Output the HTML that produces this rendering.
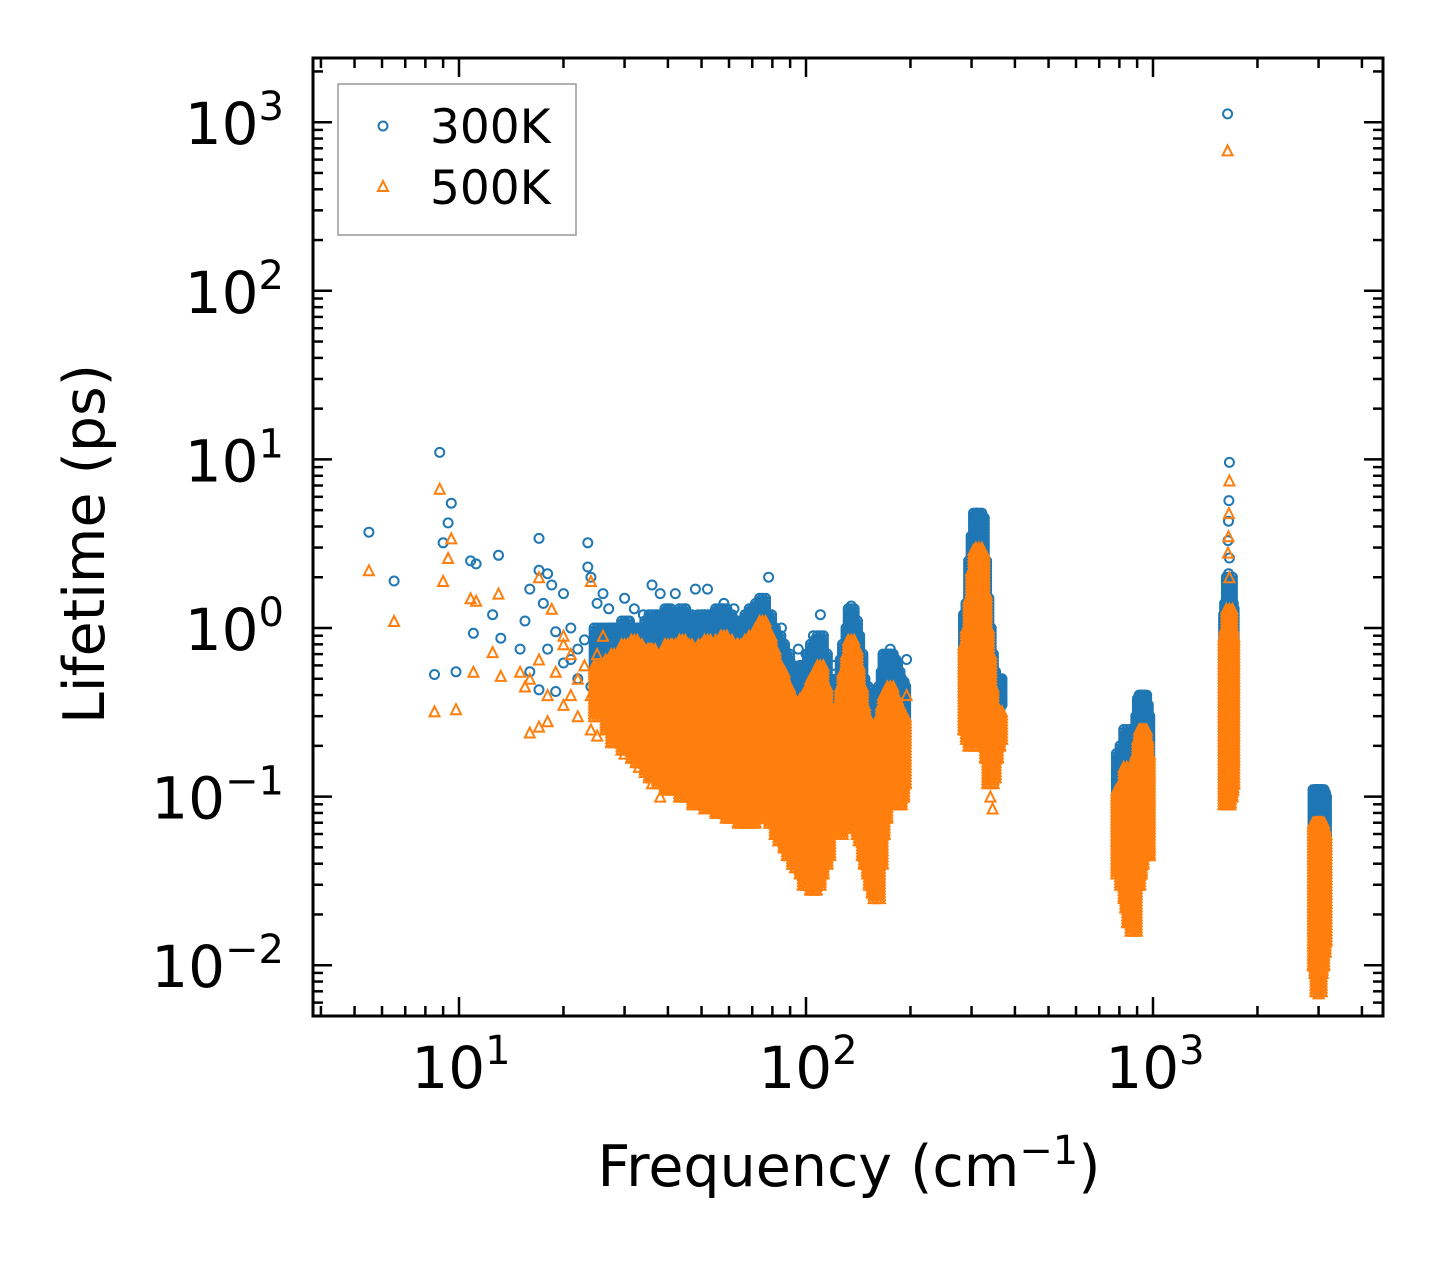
<!DOCTYPE html>
<html><head><meta charset="utf-8"><style>
html,body{margin:0;padding:0;background:#fff;width:1442px;height:1265px;overflow:hidden}
svg{display:block;font-family:"DejaVu Sans","Liberation Sans",sans-serif}
</style></head><body>
<svg id="chart" width="1442" height="1265" viewBox="0 0 1442 1265" xmlns="http://www.w3.org/2000/svg">
<g id="marks300"></g>
<g id="marks500"></g>
<g id="axes"></g>
<rect x="338" y="84" width="238" height="151" fill="#fff" stroke="#999" stroke-width="1.5"/>
<circle cx="383" cy="126" r="4.5" fill="none" stroke="#1f77b4" stroke-width="2"/>
<text x="430" y="143" font-size="47">300K</text>
<path d="M383,181 L388,191 L378,191 Z" fill="none" stroke="#ff7f0e" stroke-width="2"/>
<text x="430" y="204" font-size="47">500K</text>
<text x="849" y="1186" font-size="57" text-anchor="middle">Frequency (cm<tspan dy="-22" font-size="40">−1</tspan><tspan dy="22">)</tspan></text>
<text transform="translate(104,544) rotate(-90)" font-size="57" text-anchor="middle">Lifetime (ps)</text>
</svg>
<script>
// isolated points [freq, lifetime]
const iso300 = [[5.5,3.7],[6.5,1.9],[8.5,0.53],[8.8,11],[9.0,3.2],[9.3,4.2],[9.5,5.5],[9.8,0.55],[10.8,2.5],[11,0.93],[11.2,2.4],[12.5,1.2],[13,2.7],[13.2,0.87],[15,0.75],[15.5,1.1],[16,1.7],[16,0.55],[17,3.4],[17,2.2],[17.5,1.4],[18,2.1],[18.5,1.8],[19,0.95],[20,1.6],[21,0.65],[23.5,3.2],[23.5,2.3],[24,2.0],[25,1.4],[26,1.6],[28,1.0],[30,1.5],[32,1.3],[36,1.8],[38,1.6],[42,1.6],[48,1.7],[52,1.7],[58,1.4],[78,2.0],[95,0.75],[110,1.2],[135,1.35],[175,0.75],[195,0.65],[1640,1120],[3000,0.0072],[1660,9.6],[1655,5.7],[1650,4.3],[1645,3.3],[1660,2.6],[1650,2.1],
[17,0.43],[18,0.75],[19,0.42],[20,0.62],[21,1.0],[22,0.75],[22,0.5],[23,0.85],[24,0.45],[26,1.0],[27,1.3],[29,0.75],[31,1.1],[34,1.2],[40,1.3],[45,1.3],[55,1.2],[62,1.3],[68,1.2],[85,1.0],[100,0.7],[105,0.9],[120,0.6]];
const iso500 = [[5.5,2.2],[6.5,1.1],[8.5,0.32],[8.8,6.7],[9.0,1.9],[9.3,2.6],[9.5,3.4],[9.8,0.33],[10.8,1.5],[11,0.55],[11.2,1.45],[12.5,0.72],[13,1.6],[13.2,0.52],[15,0.55],[15.5,0.45],[16,0.24],[17,2.0],[17,0.26],[18,0.28],[18.5,1.3],[20,0.8],[21,0.4],[24,1.9],[24,0.25],[26,0.9],[195,0.4],[1640,680],[3000,0.0068],[1660,7.5],[1655,4.8],[1650,3.5],[1645,2.8],[1660,2.0],[345,0.085],[340,0.1],
[16,0.5],[17,0.65],[18,0.4],[19,0.55],[20,0.9],[20,0.35],[21,0.7],[22,0.5],[22,0.3],[23,0.6],[24,0.4],[25,0.7],[25,0.23],[27,0.55],[29,0.5],[30,0.18],[33,0.15],[36,0.12],[38,0.1]];
// dense bands [freq, min lifetime, max lifetime]
const band300 = [[25,0.5,1.0],[27,0.4,1.0],[28,0.35,1.0],[30,0.3,1.1],[32,0.28,1.0],[33,0.25,1.0],[35,0.24,1.1],[36,0.22,1.2],[38,0.21,1.2],[40,0.2,1.3],[42,0.19,1.2],[44,0.18,1.3],[46,0.17,1.2],[48,0.16,1.1],[50,0.16,1.2],[52,0.15,1.2],[54,0.15,1.2],[56,0.14,1.3],[58,0.14,1.3],[60,0.13,1.2],[62,0.13,1.1],[65,0.12,1.1],[68,0.12,1.2],[70,0.12,1.3],[73,0.13,1.4],[75,0.15,1.5],[78,0.13,1.2],[80,0.12,1.0],[83,0.1,0.9],[85,0.09,0.8],[88,0.08,0.7],[90,0.07,0.6],[93,0.065,0.55],[95,0.06,0.5],[98,0.055,0.6],[100,0.05,0.6],[103,0.045,0.7],[105,0.04,0.8],[108,0.04,0.85],[110,0.04,0.9],[113,0.05,0.7],[115,0.06,0.5],[118,0.08,0.45],[120,0.1,0.4],[123,0.09,0.45],[125,0.08,0.5],[128,0.09,0.65],[130,0.1,0.8],[133,0.11,1.0],[135,0.12,1.3],[138,0.11,1.1],[140,0.1,0.9],[143,0.09,0.7],[145,0.08,0.5],[148,0.07,0.45],[150,0.06,0.4],[153,0.055,0.38],[155,0.05,0.35],[158,0.04,0.32],[160,0.03,0.3],[163,0.06,0.4],[165,0.1,0.45],[168,0.12,0.55],[170,0.15,0.7],[173,0.18,0.7],[175,0.2,0.7],[178,0.18,0.65],[180,0.15,0.6],[183,0.15,0.55],[185,0.15,0.5],[188,0.17,0.48],[190,0.2,0.45],
[290,0.4,1.2],[295,0.35,1.4],[300,0.3,2.5],[305,0.4,3.5],[310,0.5,4.8],[315,0.55,4.8],[320,0.6,4.5],[325,0.45,2.5],[330,0.3,1.5],[335,0.28,1.0],[340,0.25,0.7],[345,0.28,0.55],[350,0.3,0.5],[355,0.32,0.5],[360,0.35,0.5],
[800,0.05,0.18],[820,0.04,0.2],[840,0.04,0.25],[850,0.035,0.22],[860,0.03,0.2],[880,0.025,0.15],[900,0.05,0.25],[910,0.055,0.3],[920,0.06,0.38],[930,0.07,0.4],[940,0.08,0.4],[950,0.07,0.35],[960,0.07,0.3],
[1630,0.1,1.2],[1640,0.1,1.4],[1650,0.12,1.3],[1660,0.12,2],[1670,0.14,1.4],[1680,0.15,1.3],
[2950,0.015,0.11],[2980,0.012,0.11],[3000,0.01,0.11],[3020,0.012,0.11],[3050,0.015,0.11],[3080,0.018,0.105],[3100,0.02,0.1]];
const band500 = [[25,0.3,0.6],[27,0.25,0.65],[28,0.21,0.7],[30,0.19,0.8],[32,0.17,0.85],[33,0.16,0.8],[35,0.14,0.75],[36,0.13,0.75],[38,0.12,0.7],[40,0.11,0.8],[42,0.11,0.8],[44,0.1,0.85],[46,0.1,0.8],[48,0.09,0.75],[50,0.09,0.8],[52,0.085,0.85],[54,0.085,0.8],[56,0.08,0.85],[58,0.08,0.9],[60,0.075,0.85],[62,0.075,0.8],[65,0.07,0.8],[68,0.07,0.85],[70,0.07,0.9],[73,0.075,1.0],[75,0.08,1.1],[78,0.075,0.9],[80,0.07,0.75],[83,0.06,0.6],[85,0.055,0.55],[88,0.05,0.45],[90,0.045,0.4],[93,0.04,0.35],[95,0.038,0.35],[98,0.035,0.38],[100,0.03,0.4],[103,0.03,0.45],[105,0.028,0.5],[108,0.03,0.55],[110,0.035,0.6],[113,0.04,0.45],[115,0.045,0.35],[118,0.06,0.3],[120,0.07,0.28],[123,0.065,0.3],[125,0.06,0.35],[128,0.065,0.45],[130,0.07,0.55],[133,0.075,0.7],[135,0.08,0.85],[138,0.075,0.75],[140,0.07,0.6],[143,0.06,0.45],[145,0.055,0.35],[148,0.045,0.3],[150,0.04,0.28],[153,0.035,0.26],[155,0.03,0.25],[158,0.027,0.23],[160,0.025,0.22],[163,0.04,0.28],[165,0.06,0.3],[168,0.075,0.35],[170,0.09,0.4],[173,0.1,0.42],[175,0.11,0.45],[178,0.1,0.4],[180,0.09,0.38],[183,0.09,0.35],[185,0.09,0.32],[188,0.1,0.3],[190,0.12,0.3],
[290,0.25,0.8],[295,0.22,1.0],[300,0.2,1.5],[305,0.25,2.2],[310,0.3,2.9],[315,0.35,3.0],[320,0.35,2.8],[325,0.28,1.6],[330,0.2,1.0],[335,0.17,0.7],[340,0.12,0.45],[345,0.13,0.35],[350,0.17,0.32],[355,0.2,0.32],[360,0.22,0.32],
[800,0.035,0.11],[820,0.03,0.12],[840,0.025,0.15],[850,0.022,0.13],[860,0.018,0.12],[880,0.016,0.09],[900,0.03,0.15],[910,0.035,0.18],[920,0.04,0.22],[930,0.045,0.25],[940,0.05,0.25],[950,0.045,0.22],[960,0.045,0.18],
[1630,0.09,0.9],[1640,0.09,1.0],[1650,0.1,1.0],[1660,0.1,1.3],[1670,0.11,1.0],[1680,0.12,0.9],
[2950,0.01,0.07],[2980,0.009,0.07],[3000,0.007,0.07],[3020,0.009,0.07],[3050,0.01,0.07],[3080,0.012,0.065],[3100,0.014,0.06]];
const xTicks = [10,100,1000];
const xTickExp = ['1','2','3'];
const yTicks = [0.01,0.1,1,10,100,1000];
const yTickExp = ['−2','−1','0','1','2','3'];

const NS='http://www.w3.org/2000/svg';
const X0=313,X1=1383,Y0=58,Y1=1016;
const PXD=347, PYD=168.6;
function xs(f){return 459+(Math.log10(f)-1)*PXD;}
function ys(v){return 628-Math.log10(v)*PYD;}
function mk(tag,attrs,parent){const e=document.createElementNS(NS,tag);for(const k in attrs)e.setAttribute(k,attrs[k]);parent.appendChild(e);return e;}
const g3=document.getElementById('marks300'), g5=document.getElementById('marks500'), ga=document.getElementById('axes');
function circ(x,y){const c=mk('circle',{cx:x.toFixed(1),cy:y.toFixed(1),r:4.5,fill:'none',stroke:'#1f77b4','stroke-width':2},g3);

}
function tri(x,y){const p=mk('path',{d:`M${x.toFixed(1)},${(y-5).toFixed(1)} L${(x+5).toFixed(1)},${(y+5).toFixed(1)} L${(x-5).toFixed(1)},${(y+5).toFixed(1)} Z`,fill:'none',stroke:'#ff7f0e','stroke-width':2},g5);

}
function drawBand(b,fn){const x=xs(b[0]),ya=ys(b[2]),yb=ys(b[1]);
 for(const dx of [-3,0,3]){for(let y=ya;y<=yb;y+=3)fn(x+dx,y);fn(x+dx,yb);}}
band300.forEach(b=>drawBand(b,circ));
iso300.forEach(p=>circ(xs(p[0]),ys(p[1])));
band500.forEach(b=>drawBand(b,tri));
iso500.forEach(p=>tri(xs(p[0]),ys(p[1])));

// frame
const fr=mk('rect',{x:X0,y:Y0,width:X1-X0,height:Y1-Y0,fill:'none',stroke:'#000','stroke-width':3},ga);


for(let d=0;d<=3;d++){for(let m=1;m<10;m++){const f=m*Math.pow(10,d);const x=xs(f);if(x<X0+1||x>X1-1)continue;const L=m===1?19:10;
 mk('line',{x1:x,x2:x,y1:Y1,y2:Y1-L,stroke:'#000','stroke-width':2.5},ga);
 mk('line',{x1:x,x2:x,y1:Y0,y2:Y0+L,stroke:'#000','stroke-width':2.5},ga);}}
for(let d=-3;d<=3;d++){for(let m=1;m<10;m++){const v=m*Math.pow(10,d);const y=ys(v);if(y<Y0+1||y>Y1-1)continue;const L=m===1?19:10;
 mk('line',{x1:X0,x2:X0+L,y1:y,y2:y,stroke:'#000','stroke-width':2.5},ga);
 mk('line',{x1:X1,x2:X1-L,y1:y,y2:y,stroke:'#000','stroke-width':2.5},ga);}}
xTicks.forEach((f,i)=>{const t=mk('text',{x:xs(f)+2,y:1088,'font-size':58,'text-anchor':'middle'},ga);
 
 
 t.innerHTML='10<tspan dy="-24" font-size="40">'+xTickExp[i]+'</tspan>';});
yTicks.forEach((v,i)=>{const t=mk('text',{x:284,y:ys(v)+22,'font-size':58,'text-anchor':'end'},ga);
 
 
 t.innerHTML='10<tspan dy="-24" font-size="40">'+yTickExp[i]+'</tspan>';});
</script>
</body></html>
